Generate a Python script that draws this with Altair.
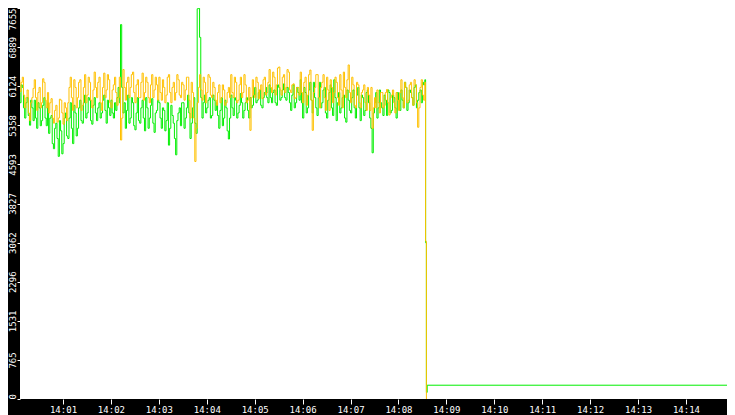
import altair as alt
import pandas as pd

# ---- data ----
SAMPLE_STEP_S = 3  # seconds between main samples, from 14:00:00; mid samples sit 1.5 s later

orange_vals = [
    6150, 6380, 6020, 6300,
    5700, 6050, 5450, 5900,
    6250, 5650, 6100, 5800, 6200, 5700,
    5600, 5880, 5400, 5750, 5500, 5850, 5380, 5700,
    5800, 6300, 5650, 6100, 5900, 6250,
    5750, 6350, 5950, 6200, 5700,
    6400, 5900, 6300, 5650, 6380, 6050, 6250, 5700, 6150, 6000,
    5900, 5070,
    6450, 5850, 6300, 6100, 6400, 5800, 6250,
    5900, 6380, 6000, 6200, 5800, 6350, 6050, 6150,
    6300, 5850, 6100, 5950, 6350, 5800, 6200, 6000, 6250, 5900, 6150, 6050,
    6300, 5500, 6000, 4650,
    5800,
    6350, 5850, 6200, 6000, 6300, 5900, 6100,
    5750, 6150, 5900, 6050, 5800, 6100,
    6350, 5900, 6200, 5850, 6300, 6000, 6150, 5850,
    5260,
    6250, 5900, 6200, 6050, 5880, 6300, 6000,
    6450, 6000, 6300, 6150, 6500, 5950, 6350, 6100, 6400,
    6000, 6170, 5900, 6100,
    6400, 5800, 6300, 5950, 6440, 5260, 6100,
    6350, 5700, 6200, 5900, 6300, 5650, 6100, 6000,
    6200, 5750, 6050, 6400, 5900, 6540, 5800, 6150, 5700,
    6150, 5700, 6050, 5800, 6100, 5650,
    5300,
    5900, 6050, 5600, 6000, 5750, 6060, 5560, 5950, 5800, 6000, 5650,
    6250, 5700, 6100, 5850, 6200, 5750, 6150, 5320, 6100, 5950, 6200,
]

orange_mid_vals = [
    5980, 6250, 6200, 5950,
    5900, 5600, 5800, 6080,
    5900, 6000, 5700, 6270, 5850, 6000,
    5800, 5500, 5650, 5420, 5870, 5600, 5800, 5450,
    6100, 5900, 6250, 5700, 6200, 5650,
    6100, 5800, 6300, 5850, 6050,
    6100, 6200, 5800, 6100, 5900, 6350, 5800, 6050, 6300, 5750,
    6300, 5500,
    6100, 6200, 5900, 6350, 6000, 6150, 5900,
    6200, 5850, 6300, 5900, 6150, 5900, 6300, 5850,
    6000, 6250, 5800, 6300, 6000, 6100, 5850, 6350, 5950, 6200, 5850, 6300,
    5850, 6200, 5500, 5300,
    6100,
    6050, 6300, 5800, 6350, 5950, 6200, 5850,
    6000, 5800, 6150, 5750, 6000, 5900,
    6000, 6300, 5800, 6150, 5900, 6350, 5800, 6100,
    5900,
    5950, 6300, 5880, 6150, 6250, 5950, 6200,
    6100, 6400, 5950, 6480, 6050, 6300, 6000, 6450, 6050,
    6150, 5880, 6100, 5950,
    6000, 6200, 5750, 6350, 5850, 6000, 6350,
    5900, 6100, 6350, 5650, 6050, 6250, 5800, 6300,
    5900, 6350, 5700, 6100, 6250, 6000, 6300, 5750, 6200,
    5800, 6000, 6150, 5650, 5950, 6100,
    5700,
    5700, 5800, 6000, 5700, 6000, 5800, 5900, 6050, 5600, 5850, 6000,
    5900, 6200, 5800, 6150, 5900, 6250, 5800, 5700, 6250, 5850,
]

green_vals = [
    5950, 6200, 5800, 6100,
    5500, 5900, 5360, 5700,
    5850, 5300, 5700, 5450, 5900, 5350,
    5200, 5550, 4900, 5400, 4750, 5250, 5000, 5600,
    5100, 5800, 5000, 5600, 5300, 5850,
    5400, 5950, 5600, 5850, 5380,
    5900, 5450, 5800, 5600, 5950, 5400, 5700, 5850, 5500, 5650,
    6100, 7330,
    5600, 5300, 5950, 5500, 5800, 5270, 5900,
    5400, 5850, 5250, 5700, 5500, 5880, 5220, 5650,
    5800, 5300, 5650, 5450, 4970, 5750, 5400, 4780, 5600, 5350, 5800, 5500,
    5950, 5100, 5700, 5400,
    7640, 7080,
    5500, 5950, 5700, 5900, 5550, 5850,
    5800, 5300, 5900, 5500, 5700, 5090,
    5950, 5550, 5850, 5600, 5980, 5500, 5800, 5650,
    5900,
    5750, 6100, 5850, 6050, 5700, 6000, 5900,
    6150, 5800, 6050, 5750, 6100, 5900, 6170, 5850, 6000,
    5650, 6150, 5800, 6000,
    6250, 5500, 6000, 5700, 6200, 5600, 5900,
    5550, 6200, 5800, 6100, 5500, 6000, 5700, 6250,
    5450, 6000, 5700, 5950, 5420, 5850, 5600, 6050, 5500,
    6100, 5450, 5900, 5650, 6050, 5500,
    4820,
    5800, 5500, 6050, 5700, 5950, 5550, 6000, 5650, 5900, 5500, 5850,
    6050, 5700, 6100, 5800, 6000, 5750, 6150, 5850, 6050, 6200, 6250,
]

green_mid_vals = [
    5850, 6000, 6150, 5700,
    5800, 5550, 5850, 5450,
    5500, 5800, 5350, 5750, 5500, 5800,
    5500, 5000, 5300, 5100, 5450, 4800, 5500, 5150,
    5500, 5300, 5750, 5150, 5700, 5450,
    5800, 5500, 5900, 5450, 5750,
    5600, 5700, 5500, 5850, 5650, 5850, 5550, 5600, 5800, 5900,
    5800, 6100,
    5800, 5650, 5400, 5900, 5350, 5600, 5450,
    5700, 5500, 5900, 5300, 5750, 5400, 5600, 5850,
    5500, 5700, 5250, 5800, 5300, 5550, 5100, 5450, 5700, 5800, 5300, 5700,
    5600, 5400, 5900, 5200,
    7650, 5900,
    5800, 5600, 5850, 5500, 5950, 5650,
    5550, 5650, 5350, 5850, 5250, 5500,
    5700, 5900, 5500, 5750, 5800, 5650, 5900, 5500,
    5700,
    5950, 5800, 6000, 5750, 5900, 6100, 5800,
    5900, 6000, 5800, 6150, 5850, 6050, 5900, 6100, 5800,
    5950, 5700, 6100, 5850,
    5800, 6100, 5600, 6050, 5850, 6200, 5700,
    5900, 5700, 6050, 5600, 5850, 6150, 5550, 5900,
    5800, 5600, 5900, 5500, 6050, 5650, 5900, 5700, 5950,
    5700, 5950, 5550, 6000, 5800, 5300,
    5600,
    6000, 5700, 5800, 5550, 5850, 6050, 5600, 5950, 5700, 6000, 5650,
    5850, 6200, 5650, 6050, 5900, 6100, 5700, 6000, 5800, 6150,
]

# after the drop (seconds after 14:00:00, value)
orange_tail_t = [514, 515]
orange_tail_v = [3090, 0]
green_tail_t = [514, 515, 516, 900]
green_tail_v = [3060, 130, 270, 270]

y_tick_values = [0, 765, 1531, 2296, 3062, 3827, 4593, 5358, 6124, 6889, 7655]
x_tick_minutes = list(range(1, 15))


# ---- build table ----
def series(name, main, mid, tail_t, tail_v):
    pts = [(i * SAMPLE_STEP_S, v) for i, v in enumerate(main)]
    pts += [(i * SAMPLE_STEP_S + SAMPLE_STEP_S / 2, v) for i, v in enumerate(mid)]
    pts += list(zip(tail_t, tail_v))
    pts.sort()
    return [{"m": t / 60.0, "v": v, "s": name} for t, v in pts]


df = pd.DataFrame(
    series("green", green_vals, green_mid_vals, green_tail_t, green_tail_v)
    + series("orange", orange_vals, orange_mid_vals, orange_tail_t, orange_tail_v)
)

FONT = "DejaVu Sans Mono"

x_enc = alt.X(
    "m:Q",
    scale=alt.Scale(domain=[0.1027, 14.856], nice=False, zero=False),
    axis=alt.Axis(
        values=x_tick_minutes,
        labelExpr="'14:' + (datum.value < 10 ? '0' : '') + datum.value",
        title=None, grid=False, domain=False,
        tickColor="white", tickSize=5, tickWidth=1,
        labelColor="white", labelFont=FONT, labelFontSize=9,
        labelPadding=1, labelOverlap=False,
    ),
)
y_enc = alt.Y(
    "v:Q",
    scale=alt.Scale(domain=[0, 7655], nice=False),
    axis=alt.Axis(
        values=y_tick_values,
        format="d",
        title=None, grid=False, domain=False,
        tickColor="white", tickSize=3, tickWidth=1,
        labelColor="white", labelFont=FONT, labelFontSize=9,
        labelAngle=270, labelPadding=0, labelOverlap=False,
        labelBaseline="bottom",
        labelAlign={
            "condition": [
                {"test": "datum.value >= 7655", "value": "right"},
                {"test": "datum.value <= 0", "value": "left"},
            ],
            "value": "center",
        },
    ),
)

base = alt.Chart(df)
green_line = base.transform_filter("datum.s == 'green'").mark_line(
    color="#00ee00", strokeWidth=1, interpolate="step-after", clip=True
).encode(x=x_enc, y=y_enc)
orange_line = base.transform_filter("datum.s == 'orange'").mark_line(
    color="#ffc000", strokeWidth=1, interpolate="step-after", clip=True
).encode(x=x_enc, y=y_enc)

chart = alt.layer(green_line, orange_line).properties(
    width=707,
    height=391,
    background="black",
    padding={"left": 12, "top": 0, "right": 0, "bottom": 16},
    autosize=alt.AutoSizeParams(type="none"),
).configure_view(fill="white", strokeWidth=0)

chart.save("out.html", embed_options={"renderer": "svg", "actions": False})
